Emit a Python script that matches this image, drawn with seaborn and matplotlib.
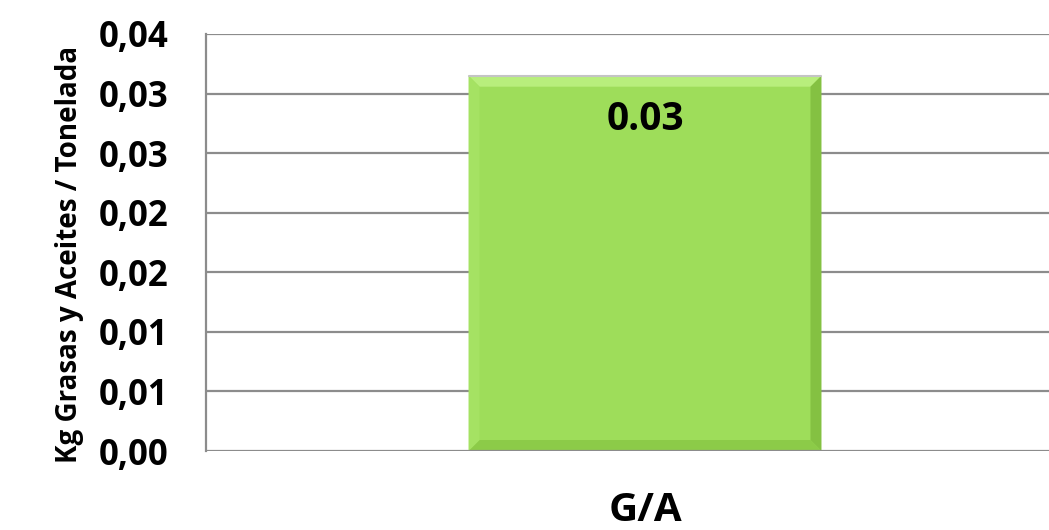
import matplotlib
matplotlib.use("Agg")
import matplotlib.pyplot as plt
from matplotlib.patches import Polygon
from matplotlib.ticker import MultipleLocator, FuncFormatter
from decimal import Decimal, ROUND_HALF_UP, ROUND_DOWN
import pandas as pd
import seaborn as sns

# Data
categories = ["G/A"]
values = [0.0315]
y_label = "Kg Grasas y Aceites / Tonelada"

sns.set_theme(style="white")
plt.rcParams["font.family"] = ["Open Sans", "DejaVu Sans"]
plt.rcParams["font.weight"] = "bold"

df = pd.DataFrame({"cat": categories, "val": values})

fig = plt.figure(figsize=(10.49, 5.30), dpi=100)
ax = fig.add_axes([206 / 1049, 79 / 530, 878 / 1049, 417 / 530])

sns.barplot(data=df, x="cat", y="val", color="#9edd5a", width=0.402,
            saturation=1, edgecolor="none", linewidth=0, ax=ax, zorder=3)

ax.set_ylim(0, 0.035)
ax.set_xlim(-0.5, 0.5)
ax.yaxis.set_major_locator(MultipleLocator(0.005))


def comma_fmt(v, _pos):
    d = Decimal(str(round(v, 6))).quantize(Decimal("0.01"), rounding=ROUND_HALF_UP)
    return f"{d}".replace(".", ",")


ax.yaxis.set_major_formatter(FuncFormatter(comma_fmt))
ax.grid(axis="y", color="#8c8c8c", linewidth=1.6, zorder=0)
ax.grid(axis="x", visible=False)
for side in ("top", "right", "bottom"):
    ax.spines[side].set_visible(False)
ax.spines["left"].set_color("#8c8c8c")
ax.spines["left"].set_linewidth(1.6)
ax.tick_params(axis="y", length=0, pad=27, labelsize=25)
ax.tick_params(axis="x", length=0, pad=29, labelsize=29)
for t in ax.get_yticklabels() + ax.get_xticklabels():
    t.set_fontweight("bold")
    t.set_color("black")
ax.set_xlabel("")
ax.set_ylabel(y_label, fontsize=20, fontweight="bold", color="black")
ax.yaxis.set_label_coords(-0.139, 0.472)

# Bevel edges on the bar
fig.canvas.draw()
inv = ax.transData.inverted()
for patch in ax.patches:
    x0, y0 = patch.get_x(), patch.get_y()
    x1, y1 = x0 + patch.get_width(), y0 + patch.get_height()
    (dx0, dy0) = ax.transData.transform((x0, y0))
    bx, by = inv.transform((dx0 + 11, dy0 + 11)) - (x0, y0)
    ix0, ix1, iy0, iy1 = x0 + bx, x1 - bx, y0 + by, y1 - by
    bevels = [
        ([(x0, y1), (x1, y1), (ix1, iy1), (ix0, iy1)], "#b8ee7c"),
        ([(x1, y1), (x1, y0), (ix1, iy0), (ix1, iy1)], "#84c142"),
        ([(x0, y0), (x1, y0), (ix1, iy0), (ix0, iy0)], "#8ccb48"),
        ([(x0, y0), (x0, y1), (ix0, iy1), (ix0, iy0)], "#a5e263"),
    ]
    for pts, col in bevels:
        ax.add_patch(Polygon(pts, closed=True, facecolor=col, edgecolor="none", zorder=4))
    ax.plot([x0, x1], [y1, y1], color="#c4c4c4", linewidth=1.5, zorder=5)
    ax.plot([x0, x1], [y0, y0], color="#8c8c8c", linewidth=1.6, zorder=5)

# Value label inside the bar
for i, v in enumerate(values):
    lbl = Decimal(str(v)).quantize(Decimal("0.01"), rounding=ROUND_DOWN)
    (_, top_px) = ax.transData.transform((i, v))
    _, ly = inv.transform((0, top_px - 44))
    ax.text(i, ly, f"{lbl}", ha="center", va="center", fontsize=28,
            fontweight="bold", color="black", zorder=6)

fig.savefig("out.png", dpi=100)
